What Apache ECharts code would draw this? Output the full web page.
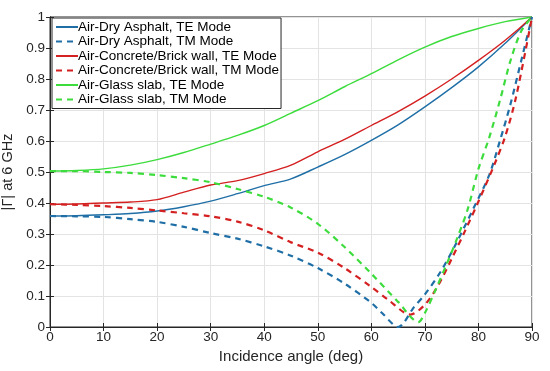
<!DOCTYPE html>
<html>
<head>
<meta charset="utf-8">
<script src="https://cdn.jsdelivr.net/npm/echarts@6/dist/echarts.min.js"></script>
<style>html,body{margin:0;padding:0;background:#fff}#c{width:550px;height:371px}</style>
</head>
<body>
<div id="c"></div>
<script>
const xTicks = [0,10,20,30,40,50,60,70,80,90];
const yTicks = [0,0.1,0.2,0.3,0.4,0.5,0.6,0.7,0.8,0.9,1];

const asphaltTE_x = [0,5,10,15,20,25,30,35,40,45,50,55,60,65,70,75,80,85,90];
const asphaltTE_y = [0.358,0.359,0.362,0.366,0.374,0.388,0.406,0.430,0.456,0.478,0.516,0.556,0.602,0.652,0.710,0.772,0.839,0.915,1.0];

const asphaltTM_x = [0,5,10,15,20,25,30,35,40,45,50,55,60,62,65,68,70,73,76,79,82,84,86,88,90];
const asphaltTM_y = [0.358,0.357,0.355,0.348,0.339,0.323,0.303,0.285,0.260,0.230,0.190,0.140,0.078,0.045,0.0,0.065,0.105,0.180,0.275,0.380,0.490,0.600,0.720,0.860,1.0];

const concreteTE_x = [0,5,10,15,20,25,30,35,40,45,50,55,60,65,70,75,80,85,90];
const concreteTE_y = [0.396,0.397,0.400,0.403,0.411,0.435,0.458,0.472,0.495,0.522,0.565,0.605,0.650,0.695,0.745,0.800,0.860,0.925,1.0];

const concreteTM_x = [0,5,10,15,20,25,30,35,40,45,50,55,60,63,67.3,70,72.5,75,77.5,80,83,85,87,90];
const concreteTM_y = [0.396,0.394,0.390,0.384,0.376,0.367,0.357,0.340,0.312,0.273,0.240,0.190,0.129,0.090,0.040,0.072,0.135,0.220,0.310,0.405,0.525,0.615,0.740,1.0];

const glassTE_x = [0,5,10,15,20,25,30,35,40,45,50,55,60,65,70,75,80,85,90];
const glassTE_y = [0.503,0.505,0.510,0.522,0.540,0.563,0.590,0.618,0.650,0.690,0.730,0.775,0.817,0.862,0.903,0.937,0.963,0.985,1.0];

const glassTM_x = [0,5,10,15,20,25,30,35,40,45,50,55,60,65,68.8,70,72,74,76,78,80,82,84,86,88,90];
const glassTM_y = [0.503,0.503,0.500,0.497,0.490,0.480,0.467,0.445,0.420,0.385,0.333,0.258,0.172,0.081,0.016,0.045,0.120,0.200,0.285,0.380,0.510,0.610,0.730,0.860,0.955,1.0];

const names = [
  'Air-Dry Asphalt, TE Mode',
  'Air-Dry Asphalt, TM Mode',
  'Air-Concrete/Brick wall, TE Mode',
  'Air-Concrete/Brick wall, TM Mode',
  'Air-Glass slab, TE Mode',
  'Air-Glass slab, TM Mode'
];

const BLUE = '#1f6fa6', RED = '#d42020', GREEN = '#3ddc3d';
function zip(xs, ys){ return xs.map((x,i)=>[x, ys[i]]); }
function mk(name, xs, ys, color, dashed){
  return {
    name, type:'line', data: zip(xs, ys), symbol:'none', smooth:0.3,
    xAxisIndex:0, yAxisIndex:0,
    lineStyle:{color, width: dashed ? 2.2 : 1.4, type: dashed ? [6,5] : 'solid'},
    itemStyle:{color}, z: dashed ? 3 : 2
  };
}

const chart = echarts.init(document.getElementById('c'), null, {renderer:'canvas'});
const font = 'Liberation Sans, Arial, Helvetica, sans-serif';
const tickColor = '#262626';
chart.setOption({
  animation:false,
  backgroundColor:'#fff',
  textStyle:{fontFamily:font},
  grid:{left:50, right:18, top:17, bottom:44, show:true, borderColor:'#262626', borderWidth:1,
        containLabel:false, outerBoundsMode:'none'},
  legend:{
    orient:'vertical', left:52, top:18, itemWidth:22, itemHeight:10, itemGap:0.5,
    padding:[2,2,2,3],
    backgroundColor:'#fff', borderColor:'#262626', borderWidth:1, borderRadius:0,
    itemStyle:{opacity:0},
    textStyle:{fontFamily:font, fontSize:13.5, color:'#000', padding:[0,0,0,-5]},
    data:names
  },
  xAxis:[{
    type:'value', min:0, max:90, interval:10,
    name:'Incidence angle (deg)', nameLocation:'middle', nameGap:22,
    nameTextStyle:{fontSize:15, color:tickColor, fontFamily:font},
    axisLine:{show:true, lineStyle:{color:tickColor}},
    axisTick:{show:true, inside:true, length:4, lineStyle:{color:tickColor}},
    axisLabel:{fontSize:13.5, color:tickColor, margin:3, fontFamily:font},
    splitLine:{show:true, lineStyle:{color:'#e3e3e3'}}
  },{
    type:'value', min:0, max:90, interval:10, position:'top',
    axisLine:{show:true, lineStyle:{color:tickColor}},
    axisTick:{show:true, inside:true, length:4, lineStyle:{color:tickColor}},
    axisLabel:{show:false}, splitLine:{show:false}
  }],
  yAxis:[{
    type:'value', min:0, max:1, interval:0.1,
    name:'|Γ| at 6 GHz', nameLocation:'middle', nameGap:32, nameRotate:90,
    nameTextStyle:{fontSize:14.5, color:tickColor, fontFamily:font},
    axisLine:{show:true, lineStyle:{color:tickColor}},
    axisTick:{show:true, inside:true, length:4, lineStyle:{color:tickColor}},
    axisLabel:{fontSize:13.5, color:tickColor, margin:5, fontFamily:font,
      formatter:(v)=> String(Math.round(v*10)/10)},
    splitLine:{show:true, lineStyle:{color:'#e3e3e3'}}
  },{
    type:'value', min:0, max:1, interval:0.1, position:'right',
    axisLine:{show:true, lineStyle:{color:tickColor}},
    axisTick:{show:true, inside:true, length:4, lineStyle:{color:tickColor}},
    axisLabel:{show:false}, splitLine:{show:false}
  }],
  series:[
    mk(names[0], asphaltTE_x, asphaltTE_y, BLUE, false),
    mk(names[1], asphaltTM_x, asphaltTM_y, BLUE, true),
    mk(names[2], concreteTE_x, concreteTE_y, RED, false),
    mk(names[3], concreteTM_x, concreteTM_y, RED, true),
    mk(names[4], glassTE_x, glassTE_y, GREEN, false),
    mk(names[5], glassTM_x, glassTM_y, GREEN, true)
  ]
});
</script>
</body>
</html>
